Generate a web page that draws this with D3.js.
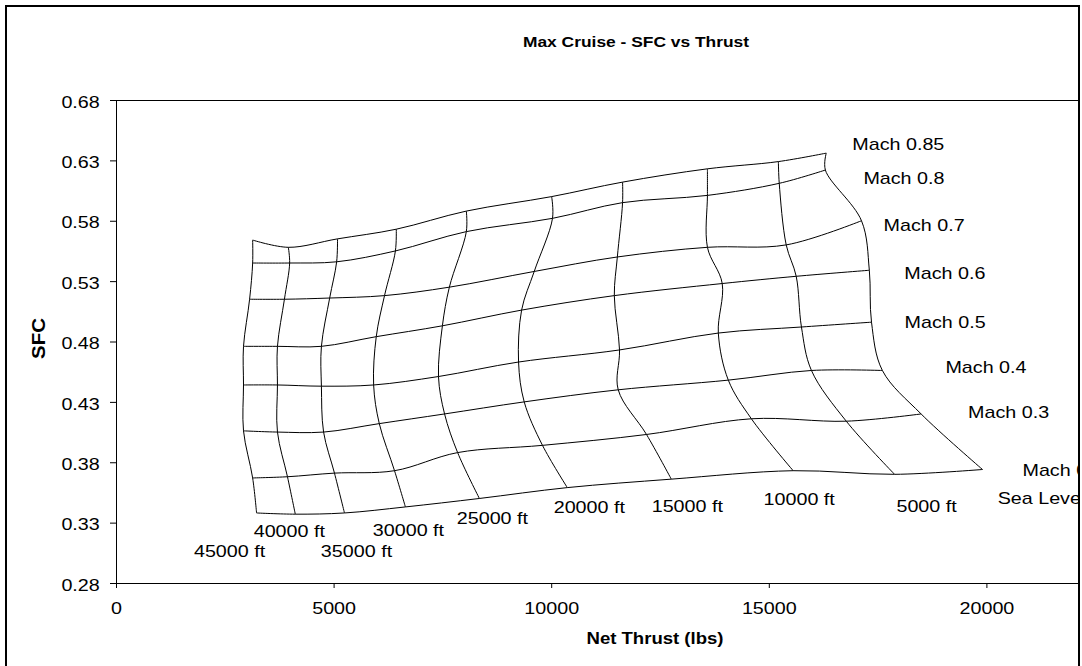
<!DOCTYPE html>
<html>
<head>
<meta charset="utf-8">
<script src="https://cdn.jsdelivr.net/npm/d3@7"></script>
<style>
  html, body { margin: 0; padding: 0; background: #fff; }
  svg { display: block; font-family: 'Liberation Sans', Arial, sans-serif; }
</style>
</head>
<body>
<svg id="chart" width="1082" height="666"></svg>
<script>
  // Data
  var machs = ['0.85', '0.8', '0.7', '0.6', '0.5', '0.4', '0.3', '0.2']
  var altitudes = ['45000 ft', '40000 ft', '35000 ft', '30000 ft', '25000 ft',
    '20000 ft', '15000 ft', '10000 ft', '5000 ft', 'Sea Level']

  // net thrust (lbs), one row per Mach, columns 45000 ft .. Sea Level
  var thrustByMach = [
    [3140, 3960, 5090, 6440, 8050, 10010, 11640, 13590, 15220, 16320],
    [3140, 3990, 5070, 6420, 8050, 10030, 11640, 13590, 15240, 16300],
    [3070, 3870, 4910, 6170, 7660, 9610, 11520, 13590, 15400, 17130],
    [2930, 3710, 4720, 5980, 7500, 9320, 11450, 13930, 15630, 17310],
    [2930, 3710, 4720, 5920, 7410, 9250, 11570, 13840, 15750, 17360],
    [2930, 3710, 4770, 6050, 7550, 9380, 11540, 14070, 15980, 17610],
    [3140, 3940, 5020, 6400, 7850, 9800, 12190, 14600, 16780, 18500],
    [3230, 4120, 5250, 6650, 8350, 10370, 12760, 15560, 17890, 19910]
  ]

  // SFC, same layout
  var sfcByMach = [
    [0.564, 0.558, 0.565, 0.573, 0.588, 0.600, 0.612, 0.623, 0.629, 0.636],
    [0.545, 0.545, 0.546, 0.555, 0.571, 0.582, 0.595, 0.601, 0.611, 0.622],
    [0.515, 0.515, 0.516, 0.518, 0.525, 0.538, 0.550, 0.558, 0.560, 0.580],
    [0.476, 0.476, 0.476, 0.484, 0.493, 0.506, 0.518, 0.528, 0.534, 0.539],
    [0.444, 0.444, 0.443, 0.444, 0.451, 0.463, 0.473, 0.487, 0.492, 0.496],
    [0.406, 0.405, 0.405, 0.412, 0.420, 0.430, 0.440, 0.448, 0.456, 0.456],
    [0.367, 0.368, 0.371, 0.373, 0.388, 0.394, 0.403, 0.416, 0.414, 0.420],
    [0.338, 0.337, 0.338, 0.343, 0.350, 0.359, 0.366, 0.373, 0.370, 0.374]
  ]

  var xTicks = [0, 5000, 10000, 15000, 20000, 25000]
  var yTicks = [0.28, 0.33, 0.38, 0.43, 0.48, 0.53, 0.58, 0.63, 0.68]

  // Layout
  var STRETCH = 1.16 // text in the original is drawn a bit wide
  var FONT = 17
  var machLabelOffsets = [[26, -3], [38, 14], [22, 10], [35, 9], [33, 6], [63, 3], [47, 4], [40, 7]]
  var altLabelOffsets = [[-27, 44], [-6, 23], [12, 44], [3, 29], [13, 26],
    [22, 25], [16, 33], [6, 34], [32, 38], [59, 35]]

  var svg = d3.select('#chart')

  var x = d3.scaleLinear().domain([0, 25000]).range([116, 1204])
  var y = d3.scaleLinear().domain([0.28, 0.68]).range([583, 100])

  svg.append('defs').append('clipPath')
    .attr('id', 'frame-clip')
    .append('rect')
    .attr('x', 0).attr('y', 0)
    .attr('width', 1078).attr('height', 666)

  var root = svg.append('g').attr('clip-path', 'url(#frame-clip)')

  // plot area border
  root.append('rect')
    .attr('x', x(0) + 0.5)
    .attr('y', y(0.68) + 0.5)
    .attr('width', x(25000) - x(0))
    .attr('height', y(0.28) - y(0.68))
    .attr('fill', 'none')
    .attr('stroke', '#000')
    .attr('stroke-width', 1)

  // axes
  var yAxis = root.append('g')
    .attr('transform', 'translate(' + x(0) + ',0)')
    .call(d3.axisLeft(y).tickValues(yTicks).tickSize(6).tickSizeOuter(0)
      .tickPadding(8).tickFormat(d3.format('.2f')))
  yAxis.selectAll('text')
    .attr('dy', '0.42em')
    .attr('transform', 'scale(' + STRETCH + ',1)')

  var xAxis = root.append('g')
    .attr('transform', 'translate(0,' + y(0.28) + ')')
    .call(d3.axisBottom(x).tickValues(xTicks).tickSize(5).tickSizeOuter(0)
      .tickPadding(14).tickFormat(d3.format('d')))
  xAxis.selectAll('text')
    .attr('transform', 'scale(' + STRETCH + ',1)')

  root.selectAll('.tick text')
    .attr('fill', '#000')
    .style('font-size', FONT + 'px')
    .style('font-family', "'Liberation Sans', Arial, sans-serif")
  root.selectAll('.domain, .tick line').attr('stroke', '#000')

  // carpet grid
  var line = d3.line()
    .x(function (d) { return x(d[0]) })
    .y(function (d) { return y(d[1]) })
    .curve(d3.curveCatmullRom.alpha(0.5))

  var machLines = machs.map(function (m, i) {
    return thrustByMach[i].map(function (t, j) { return [t, sfcByMach[i][j]] })
  })
  var altLines = altitudes.map(function (a, j) {
    return machs.map(function (m, i) { return [thrustByMach[i][j], sfcByMach[i][j]] })
  })

  var grid = root.append('g').classed('carpet', true)
  grid.selectAll('path.mach')
    .data(machLines)
    .enter().append('path')
    .classed('mach', true)
    .attr('d', line)
    .attr('fill', 'none')
    .attr('stroke', '#000')
    .attr('stroke-width', 1)
  grid.selectAll('path.alt')
    .data(altLines)
    .enter().append('path')
    .classed('alt', true)
    .attr('d', line)
    .attr('fill', 'none')
    .attr('stroke', '#000')
    .attr('stroke-width', 1)

  // line labels
  var last = altitudes.length - 1
  root.append('g').selectAll('text')
    .data(machs)
    .enter().append('text')
    .attr('transform', function (d, i) {
      var px = x(thrustByMach[i][last]) + machLabelOffsets[i][0]
      var py = y(sfcByMach[i][last]) + machLabelOffsets[i][1]
      return 'translate(' + px + ',' + py + ') scale(' + STRETCH + ',1)'
    })
    .style('font-size', FONT + 'px')
    .attr('fill', '#000')
    .text(function (d) { return 'Mach ' + d })

  var bottom = machs.length - 1
  root.append('g').selectAll('text')
    .data(altitudes)
    .enter().append('text')
    .attr('transform', function (d, j) {
      var px = x(thrustByMach[bottom][j]) + altLabelOffsets[j][0]
      var py = y(sfcByMach[bottom][j]) + altLabelOffsets[j][1]
      return 'translate(' + px + ',' + py + ') scale(' + STRETCH + ',1)'
    })
    .attr('text-anchor', 'middle')
    .style('font-size', FONT + 'px')
    .attr('fill', '#000')
    .text(function (d) { return d })

  // titles
  root.append('text')
    .attr('transform', 'translate(636,47) scale(' + STRETCH + ',1)')
    .attr('text-anchor', 'middle')
    .style('font-size', '15px')
    .style('font-weight', 'bold')
    .text('Max Cruise - SFC vs Thrust')

  root.append('text')
    .attr('transform', 'translate(' + ((x(0) + x(25000)) / 2 - 5) + ',644) scale(' + STRETCH + ',1)')
    .attr('text-anchor', 'middle')
    .style('font-size', '16px')
    .style('font-weight', 'bold')
    .text('Net Thrust (lbs)')

  root.append('text')
    .attr('transform', 'translate(45,' + (y(0.48) - 3) + ') rotate(-90) scale(1.28,' + STRETCH + ')')
    .attr('text-anchor', 'middle')
    .style('font-size', '16px')
    .style('font-weight', 'bold')
    .text('SFC')

  // chart frame
  svg.append('rect')
    .attr('x', 6).attr('y', 6)
    .attr('width', 1073).attr('height', 720)
    .attr('fill', 'none')
    .attr('stroke', '#000')
    .attr('stroke-width', 2)
</script>
</body>
</html>
